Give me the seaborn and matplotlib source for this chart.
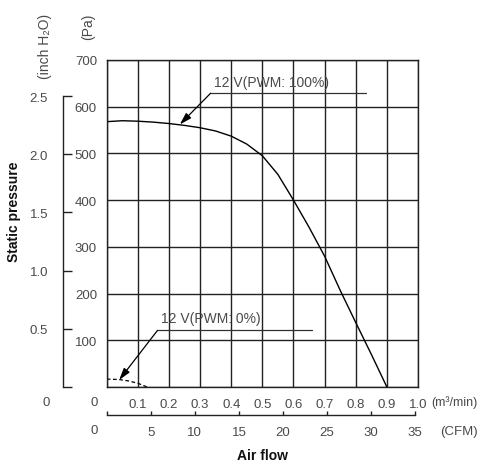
import numpy as np
import matplotlib
matplotlib.use("Agg")
import matplotlib.pyplot as plt
import seaborn as sns

# air flow (m3/min) vs static pressure (Pa)
flow_100 = [0, 0.05, 0.1, 0.15, 0.2, 0.25, 0.3, 0.35, 0.4, 0.45, 0.5,
            0.55, 0.6, 0.65, 0.7, 0.75, 0.8, 0.85, 0.9]
pa_100 = [568, 570, 569, 567, 564, 560, 555, 548, 537, 520, 495,
          455, 400, 342, 280, 207, 138, 70, 0]
flow_0 = [0, 0.04, 0.07, 0.1, 0.13]
pa_0 = [17, 16, 13, 8, 0]

pa_ticks = [100, 200, 300, 400, 500, 600, 700]
m3_ticks = [0.1, 0.2, 0.3, 0.4, 0.5, 0.6, 0.7, 0.8, 0.9, 1.0]
cfm_ticks = [0, 5, 10, 15, 20, 25, 30, 35]
inch_ticks = [0, 0.5, 1.0, 1.5, 2.0, 2.5]

label_100 = "12 V(PWM: 100%)"
label_0 = "12 V(PWM: 0%)"

PA_PER_INCH = 249.089
CFM_PER_M3 = 35.3147

sns.set_theme(style="white")
FONT = ["Liberation Sans", "DejaVu Sans"]
plt.rcParams["font.family"] = FONT
TXT = "#4a4a4a"
LINE = "#222222"
fs = 9.5

fig = plt.figure(figsize=(4.88, 4.64), dpi=100)
W, H = 488.0, 464.0
x0, x1, y0, y1 = 106.7, 418.0, 388.0, 61.0
ax = fig.add_axes([x0 / W, 1 - y0 / H, (x1 - x0) / W, (y0 - y1) / H])

sns.lineplot(x=flow_100, y=pa_100, ax=ax, color="black", lw=1.0)
sns.lineplot(x=flow_0, y=pa_0, ax=ax, color="black", lw=0.9, linestyle=(0, (3, 2)))

ax.set_xlim(0, 1.0)
ax.set_ylim(0, 700)
ax.set_xticks([0] + m3_ticks)
ax.set_xticklabels([""] + ["%.1f" % v for v in m3_ticks])
ax.set_yticks([0] + pa_ticks)
ax.set_yticklabels([""] + [str(v) for v in pa_ticks])
ax.tick_params(axis="both", length=0, labelsize=fs, labelcolor=TXT)
ax.tick_params(axis="x", pad=8)
ax.tick_params(axis="y", pad=7)
ax.grid(True, color=LINE, lw=1.0)
for s in ax.spines.values():
    s.set_color(LINE)
    s.set_linewidth(1.0)
ax.set_xlabel("")
ax.set_ylabel("")

# annotations
ax.annotate("", xy=(0.235, 562), xytext=(0.334, 629),
            arrowprops=dict(arrowstyle="-|>,head_length=0.6,head_width=0.18",
                            color="black", lw=0.9, shrinkA=0, shrinkB=0))
ax.plot([0.334, 0.833], [629, 629], color="#333333", lw=0.9)
ax.text(0.346, 653, label_100, fontsize=fs + 0.5, color=TXT, va="center", ha="left")

ax.annotate("", xy=(0.04, 15), xytext=(0.163, 121),
            arrowprops=dict(arrowstyle="-|>,head_length=0.6,head_width=0.18",
                            color="black", lw=0.9, shrinkA=0, shrinkB=0))
ax.plot([0.163, 0.661], [121, 121], color="#333333", lw=0.9)
ax.text(0.175, 147, label_0, fontsize=fs + 0.5, color=TXT, va="center", ha="left")

# inch H2O axis
ax_in = fig.add_axes([63.3 / W, 1 - y0 / H, 0.02, (y0 - y1) / H])
ax_in.set_ylim(0, 700 / PA_PER_INCH)
ax_in.patch.set_alpha(0)
for k in ["top", "right", "bottom"]:
    ax_in.spines[k].set_visible(False)
ax_in.spines["left"].set_bounds(0, 2.5)
ax_in.spines["left"].set_color(LINE)
ax_in.spines["left"].set_linewidth(1.0)
ax_in.set_xticks([])
ax_in.set_yticks(inch_ticks)
ax_in.set_yticklabels([""] + ["%.1f" % v for v in inch_ticks[1:]])
ax_in.tick_params(axis="y", direction="in", length=6.5, width=1.0, color=LINE,
                  pad=11, labelsize=fs, labelcolor=TXT, left=True)

# CFM axis
ax_cfm = fig.add_axes([x0 / W, 1 - 416 / H, (x1 - x0) / W, 0.02])
ax_cfm.set_xlim(0, 1.0 * CFM_PER_M3)
ax_cfm.patch.set_alpha(0)
for k in ["top", "right", "left"]:
    ax_cfm.spines[k].set_visible(False)
ax_cfm.spines["bottom"].set_bounds(0, 35)
ax_cfm.spines["bottom"].set_color(LINE)
ax_cfm.spines["bottom"].set_linewidth(1.0)
ax_cfm.set_yticks([])
ax_cfm.set_xticks(cfm_ticks)
ax_cfm.set_xticklabels([""] + [str(v) for v in cfm_ticks[1:]])
ax_cfm.tick_params(axis="x", direction="in", length=3, width=1.0, color=LINE,
                   pad=8, labelsize=fs, labelcolor=TXT, bottom=True)

# loose texts
def ftext(x, y, s, **kw):
    kw.setdefault("fontsize", fs)
    kw.setdefault("color", TXT)
    fig.text(x / W, 1 - y / H, s, ha=kw.pop("ha", "center"), va=kw.pop("va", "center"), **kw)

ftext(50, 403, "0", ha="right")
ftext(98, 403, "0", ha="right")
ftext(98, 431, "0", ha="right")
ftext(431, 403, "(m\u00b3/min)", ha="left", fontsize=9)
ftext(440, 432, "(CFM)", ha="left")
ftext(45, 46, "(inch H\u2082O)", rotation=90, fontsize=10)
ftext(88, 27, "(Pa)", rotation=90, fontsize=10)
ftext(262, 456, "Air flow", fontweight="bold", color="#111111", fontsize=10)
ftext(14, 212, "Static pressure", fontweight="bold", color="#111111",
      rotation=90, fontsize=10)

fig.savefig("out.png", dpi=100)
